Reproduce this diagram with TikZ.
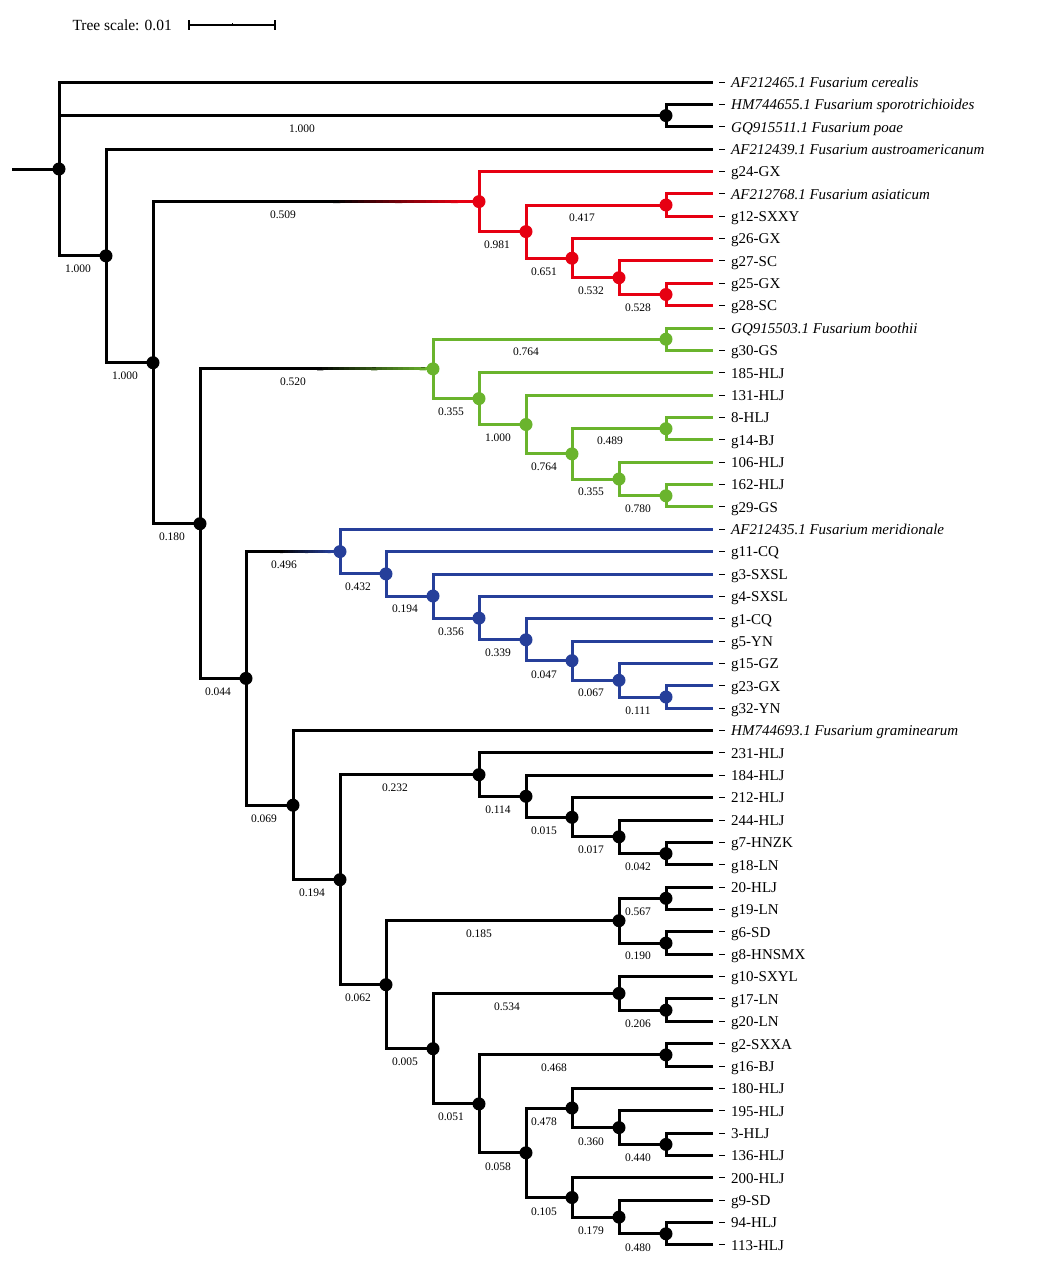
\documentclass[tikz,border=0pt]{standalone}
\usepackage{fontspec}
\setmainfont{Liberation Serif}
\usetikzlibrary{calc}

\definecolor{cladered}{RGB}{230,0,18}
\definecolor{cladegreen}{RGB}{106,180,45}
\definecolor{cladeblue}{RGB}{38,63,154}

\begin{document}
\begin{tikzpicture}[x=1pt,y=-1pt,
  br/.style={line width=3pt},
  bs/.style={anchor=base,font=\fontsize{11.5}{12}\selectfont,inner sep=0pt},
  taxon/.style={anchor=base west,inner sep=0pt,font=\fontsize{15}{16}\selectfont}]
\useasboundingbox (0,0) rectangle (1036,1274);
%
% tree scale
\node[anchor=base east,inner sep=0pt,font=\fontsize{15.5}{16}\selectfont] (scaletext) at (172,30.5) {Tree scale: 0.01};
\coordinate (sc0) at (189,25);
\coordinate (sc1) at (275,25);
\draw[line width=1.5pt] (sc0) -- (sc1);
\draw[line width=1.5pt] ($(sc0)+(0,-5)$) -- ($(sc0)+(0,5)$);
\draw[line width=1.5pt] ($(sc1)+(0,-5)$) -- ($(sc1)+(0,5)$);
\draw[line width=1pt] ($(sc0)!.5!(sc1)+(0,-2)$) -- ($(sc0)!.5!(sc1)$);
%
% taxa
\foreach \i/\t in {
  0/{\textit{AF212465.1 Fusarium cerealis}},
  1/{\textit{HM744655.1 Fusarium sporotrichioides}},
  2/{\textit{GQ915511.1 Fusarium poae}},
  3/{\textit{AF212439.1 Fusarium austroamericanum}},
  4/g24-GX, 5/{\textit{AF212768.1 Fusarium asiaticum}}, 6/g12-SXXY,
  7/g26-GX, 8/g27-SC, 9/g25-GX, 10/g28-SC,
  11/{\textit{GQ915503.1 Fusarium boothii}}, 12/g30-GS,
  13/185-HLJ, 14/131-HLJ, 15/8-HLJ, 16/g14-BJ, 17/106-HLJ, 18/162-HLJ, 19/g29-GS,
  20/{\textit{AF212435.1 Fusarium meridionale}}, 21/g11-CQ, 22/g3-SXSL, 23/g4-SXSL,
  24/g1-CQ, 25/g5-YN, 26/g15-GZ, 27/g23-GX, 28/g32-YN,
  29/{\textit{HM744693.1 Fusarium graminearum}},
  30/231-HLJ, 31/184-HLJ, 32/212-HLJ, 33/244-HLJ, 34/g7-HNZK, 35/g18-LN,
  36/20-HLJ, 37/g19-LN, 38/g6-SD, 39/g8-HNSMX, 40/g10-SXYL, 41/g17-LN, 42/g20-LN,
  43/g2-SXXA, 44/g16-BJ, 45/180-HLJ, 46/195-HLJ, 47/3-HLJ, 48/136-HLJ,
  49/200-HLJ, 50/g9-SD, 51/94-HLJ, 52/113-HLJ} {
  \coordinate (L\i) at (713,{82+22.365*\i});
  \node[taxon] (T\i) at (731,{87.3+22.365*\i}) {\t};
  \draw[line width=1pt] ($(L\i)+(6,0)$) -- ($(L\i)+(12,0)$);
}
%
% internal nodes
\foreach \n/\x/\y in {R/59/169, nA/666/115.6, nB/106/255.9, nC/153/362.7,
  nRed/479/201.6, nR2/526/231.6, nR3/666/205, nR4/572/258.2, nR5/619/277.7, nR6/666/294.5,
  nD/200/523.7, nGreen/433/368.9, nG1/666/339.2, nG2/479/398.6, nG3/526/424.5,
  nG4/572/453.9, nG5/666/428.7, nG6/619/479, nG7/666/495.8,
  nE/246/678.4, nBlue/340/551.6, nB2/386/573.9, nB3/433/596, nB4/479/618.1,
  nB5/526/639.8, nB6/572/660.7, nB7/619/680.3, nB8/666/697,
  nF/293/805.2, nH/340/879.7, nI/479/774.7, nI2/526/796.3, nI3/572/817.3,
  nI4/619/836.8, nI5/666/853.6, nJ/386/984.7, nK/619/920.7, nK1/666/898.3,
  nK2/666/943.1, nL/433/1048.7, nM/619/993.4, nM2/666/1010.2, nN/479/1103.9,
  nO/666/1054.9, nP/526/1152.8, nQ/572/1108, nQ2/619/1127.6, nQ3/666/1144.4,
  nS/572/1197.5, nS2/619/1217.1, nS3/666/1233.8}
  \coordinate (\n) at (\x,\y);
\coordinate (stub) at (12,169);
%
% outgroups
\draw[br] (stub) -- (R);
\draw[br] (R) |- (L0);
\draw[br] (R) |- (nA);
\draw[br] (nA) |- (L1);
\draw[br] (nA) |- (L2);
\draw[br] (R) |- (nB);
\draw[br] (nB) |- (L3);
\draw[br] (nB) |- (nC);
\draw[br] (nC) |- (nD);
%
% red clade
\coordinate (gR1) at (333,201.6);
\coordinate (gR2) at (457,201.6);
\draw[br] (nC) |- (gR2);
\foreach \k [evaluate=\k as \pc using int(\k*5)] in {0,...,19}
  \draw[br,cladered!\pc!black] ($(gR1)!{\k/20}!(gR2)$) -- ($(gR1)!{\k/20+0.06}!(gR2)$);
\draw[br,cladered] (gR2) -- (nRed);
\begin{scope}[br,cladered]
\draw (nRed) |- (L4);
\draw (nRed) |- (nR2);
\draw (nR2) |- (nR3);
\draw (nR3) |- (L5);
\draw (nR3) |- (L6);
\draw (nR2) |- (nR4);
\draw (nR4) |- (L7);
\draw (nR4) |- (nR5);
\draw (nR5) |- (L8);
\draw (nR5) |- (nR6);
\draw (nR6) |- (L9);
\draw (nR6) |- (L10);
\end{scope}
%
% green clade
\coordinate (gG1) at (317,368.9);
\coordinate (gG2) at (425,368.9);
\draw[br] (nD) |- (gG2);
\foreach \k [evaluate=\k as \pc using int(\k*5)] in {0,...,19}
  \draw[br,cladegreen!\pc!black] ($(gG1)!{\k/20}!(gG2)$) -- ($(gG1)!{\k/20+0.06}!(gG2)$);
\draw[br,cladegreen] (gG2) -- (nGreen);
\begin{scope}[br,cladegreen]
\draw (nGreen) |- (nG1);
\draw (nG1) |- (L11);
\draw (nG1) |- (L12);
\draw (nGreen) |- (nG2);
\draw (nG2) |- (L13);
\draw (nG2) |- (nG3);
\draw (nG3) |- (L14);
\draw (nG3) |- (nG4);
\draw (nG4) |- (nG5);
\draw (nG5) |- (L15);
\draw (nG5) |- (L16);
\draw (nG4) |- (nG6);
\draw (nG6) |- (L17);
\draw (nG6) |- (nG7);
\draw (nG7) |- (L18);
\draw (nG7) |- (L19);
\end{scope}
\draw[br] (nD) |- (nE);
%
% blue clade
\coordinate (gB1) at (280,551.6);
\coordinate (gB2) at (330,551.6);
\draw[br] (nE) |- (gB2);
\foreach \k [evaluate=\k as \pc using int(\k*5)] in {0,...,19}
  \draw[br,cladeblue!\pc!black] ($(gB1)!{\k/20}!(gB2)$) -- ($(gB1)!{\k/20+0.06}!(gB2)$);
\draw[br,cladeblue] (gB2) -- (nBlue);
\begin{scope}[br,cladeblue]
\draw (nBlue) |- (L20);
\draw (nBlue) |- (nB2);
\draw (nB2) |- (L21);
\draw (nB2) |- (nB3);
\draw (nB3) |- (L22);
\draw (nB3) |- (nB4);
\draw (nB4) |- (L23);
\draw (nB4) |- (nB5);
\draw (nB5) |- (L24);
\draw (nB5) |- (nB6);
\draw (nB6) |- (L25);
\draw (nB6) |- (nB7);
\draw (nB7) |- (L26);
\draw (nB7) |- (nB8);
\draw (nB8) |- (L27);
\draw (nB8) |- (L28);
\end{scope}
%
% lower clade
\draw[br] (nE) |- (nF);
\draw[br] (nF) |- (L29);
\draw[br] (nF) |- (nH);
\draw[br] (nH) |- (nI);
\draw[br] (nI) |- (L30);
\draw[br] (nI) |- (nI2);
\draw[br] (nI2) |- (L31);
\draw[br] (nI2) |- (nI3);
\draw[br] (nI3) |- (L32);
\draw[br] (nI3) |- (nI4);
\draw[br] (nI4) |- (L33);
\draw[br] (nI4) |- (nI5);
\draw[br] (nI5) |- (L34);
\draw[br] (nI5) |- (L35);
\draw[br] (nH) |- (nJ);
\draw[br] (nJ) |- (nK);
\draw[br] (nK) |- (nK1);
\draw[br] (nK1) |- (L36);
\draw[br] (nK1) |- (L37);
\draw[br] (nK) |- (nK2);
\draw[br] (nK2) |- (L38);
\draw[br] (nK2) |- (L39);
\draw[br] (nJ) |- (nL);
\draw[br] (nL) |- (nM);
\draw[br] (nM) |- (L40);
\draw[br] (nM) |- (nM2);
\draw[br] (nM2) |- (L41);
\draw[br] (nM2) |- (L42);
\draw[br] (nL) |- (nN);
\draw[br] (nN) |- (nO);
\draw[br] (nO) |- (L43);
\draw[br] (nO) |- (L44);
\draw[br] (nN) |- (nP);
\draw[br] (nP) |- (nQ);
\draw[br] (nQ) |- (L45);
\draw[br] (nQ) |- (nQ2);
\draw[br] (nQ2) |- (L46);
\draw[br] (nQ2) |- (nQ3);
\draw[br] (nQ3) |- (L47);
\draw[br] (nQ3) |- (L48);
\draw[br] (nP) |- (nS);
\draw[br] (nS) |- (L49);
\draw[br] (nS) |- (nS2);
\draw[br] (nS2) |- (L50);
\draw[br] (nS2) |- (nS3);
\draw[br] (nS3) |- (L51);
\draw[br] (nS3) |- (L52);
%
% node dots
\foreach \n in {R,nA,nB,nC,nD,nE,nF,nH,nI,nI2,nI3,nI4,nI5,nJ,nK,nK1,nK2,
  nL,nM,nM2,nN,nO,nP,nQ,nQ2,nQ3,nS,nS2,nS3}
  \fill (\n) circle (6.5);
\foreach \n in {nRed,nR2,nR3,nR4,nR5,nR6}
  \fill[cladered] (\n) circle (6.5);
\foreach \n in {nGreen,nG1,nG2,nG3,nG4,nG5,nG6,nG7}
  \fill[cladegreen] (\n) circle (6.5);
\foreach \n in {nBlue,nB2,nB3,nB4,nB5,nB6,nB7,nB8}
  \fill[cladeblue] (\n) circle (6.5);
%
% branch support
\foreach \x/\y/\t [count=\k] in {302/128/1.000, 78/268/1.000, 125/375/1.000,
  283/214/0.509, 497/244/0.981, 582/217/0.417, 544/271/0.651, 591/290/0.532, 638/307/0.528,
  172/536/0.180, 293/381/0.520, 526/351/0.764, 451/411/0.355, 498/437/1.000,
  544/466/0.764, 610/440/0.489, 591/491/0.355, 638/508/0.780,
  218/691/0.044, 284/564/0.496, 358/586/0.432, 405/608/0.194, 451/631/0.356,
  498/652/0.339, 544/674/0.047, 591/692/0.067, 638/710/0.111,
  264/818/0.069, 312/892/0.194, 395/787/0.232, 498/809/0.114, 544/830/0.015,
  591/849/0.017, 638/866/0.042, 358/997/0.062, 479/933/0.185, 638/911/0.567,
  638/955/0.190, 405/1061/0.005, 507/1006/0.534, 638/1023/0.206, 451/1116/0.051,
  554/1067/0.468, 498/1166/0.058, 544/1121/0.478, 591/1141/0.360, 638/1157/0.440,
  544/1211/0.105, 591/1230/0.179, 638/1247/0.480}
  \node[bs] (sup\k) at (\x,\y+4) {\t};
\end{tikzpicture}
\end{document}
